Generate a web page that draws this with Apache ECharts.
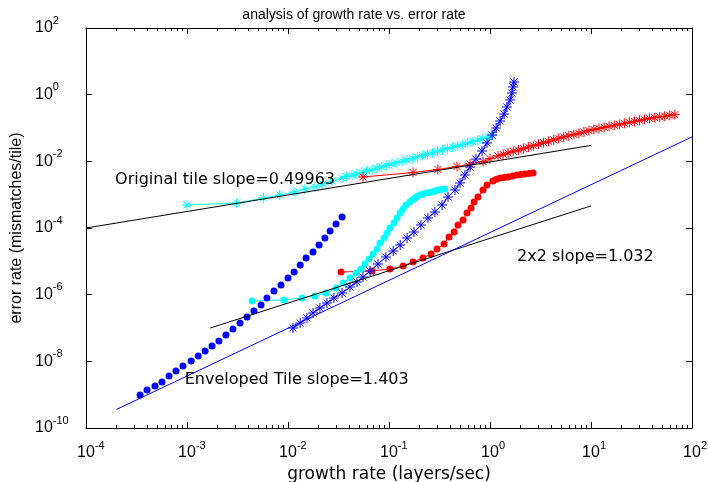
<!DOCTYPE html>
<html lang="en">
<head>
<meta charset="UTF-8">
<title>analysis of growth rate vs. error rate</title>
<script src="https://cdn.jsdelivr.net/npm/echarts@6/dist/echarts.min.js"></script>
<style>
  html, body { margin: 0; padding: 0; background: #fff; }
  #main { width: 708px; height: 482px; }
</style>
</head>
<body>
<div id="main"></div>
<script>
// original tile (cyan stars)
const cyanStarX = [1.0e-3, 3.1e-3, 5.7e-3, 8.3e-3, 1.15e-2, 1.47e-2, 1.85e-2, 2.22e-2, 2.73e-2, 3.43e-2,
  0.038, 0.043, 0.048, 0.054, 0.060, 0.068, 0.076, 0.085, 0.095, 0.107, 0.120, 0.135, 0.151, 0.170,
  0.191, 0.214, 0.240, 0.269, 0.302, 0.339, 0.380, 0.427, 0.479, 0.537, 0.603, 0.676, 0.759, 0.851, 0.955, 1.05];
const cyanStarY = [4.9e-4, 5.6e-4, 7.9e-4, 9.8e-4, 1.2e-3, 1.48e-3, 1.7e-3, 2.09e-3, 2.57e-3, 3.16e-3,
  3.5e-3, 3.8e-3, 4.2e-3, 4.6e-3, 5.1e-3, 5.6e-3, 6.2e-3, 6.8e-3, 7.5e-3, 8.3e-3, 9.1e-3, 1.0e-2, 1.1e-2, 1.2e-2,
  1.35e-2, 1.5e-2, 1.65e-2, 1.8e-2, 2.0e-2, 2.2e-2, 2.4e-2, 2.65e-2, 2.9e-2, 3.2e-2, 3.5e-2, 3.9e-2, 4.3e-2, 4.8e-2, 5.4e-2, 6.0e-2];

// red stars
const redStarX = [0.0553, 0.173, 0.305, 0.471, 0.634, 0.853, 1.0,
  1.20, 1.35, 1.51, 1.70, 1.91, 2.14, 2.40, 2.69, 3.02, 3.39, 3.80, 4.27, 4.79, 5.37, 6.03, 6.76, 7.59, 8.51,
  9.55, 10.7, 12.0, 13.5, 15.1, 17.0, 19.1, 21.4, 24.0, 26.9, 30.2, 33.9, 38.0, 42.7, 47.9, 53.7, 60.3, 67.6];
const redStarY = [3.39e-3, 4.62e-3, 5.69e-3, 7.0e-3, 8.3e-3, 9.9e-3, 1.2e-2,
  0.0146, 0.0162, 0.0178, 0.0200, 0.0219, 0.0243, 0.0269, 0.0295, 0.0327, 0.0363, 0.0398, 0.0442, 0.0490, 0.0537,
  0.0582, 0.0638, 0.0692, 0.0759, 0.0832, 0.0902, 0.0966, 0.104, 0.112, 0.120, 0.129, 0.138, 0.148, 0.158,
  0.170, 0.182, 0.195, 0.204, 0.216, 0.226, 0.240, 0.251];

// blue stars
const blueStarX = [0.0112, 0.0132, 0.0154, 0.0177, 0.0207, 0.0243, 0.0285, 0.0343, 0.0411, 0.0482, 0.0553,
  0.0649, 0.0778, 0.0933, 0.110, 0.129, 0.151, 0.177, 0.207, 0.243, 0.285, 0.335, 0.384, 0.450, 0.505,
  0.565, 0.634, 0.726, 0.834, 0.933, 1.05, 1.15, 1.26, 1.38, 1.47, 1.58, 1.65, 1.69, 1.73];
const blueStarY = [1.0e-7, 1.41e-7, 2.0e-7, 2.82e-7, 3.98e-7, 5.62e-7, 7.94e-7, 1.12e-6, 1.70e-6, 2.40e-6, 3.39e-6,
  5.13e-6, 8.32e-6, 1.35e-5, 2.04e-5, 3.09e-5, 5.01e-5, 7.59e-5, 1.23e-4, 2.0e-4, 3.02e-4, 4.90e-4, 8.51e-4,
  1.38e-3, 2.24e-3, 3.89e-3, 6.76e-3, 1.17e-2, 2.04e-2, 3.55e-2, 6.17e-2, 0.1, 0.162, 0.263, 0.427, 0.692, 1.12, 1.70, 2.40];

// blue dots
const blueDotX = [3.43e-4, 4.02e-4, 4.82e-4, 5.65e-4, 6.64e-4, 7.78e-4, 9.12e-4, 1.10e-3, 1.29e-3, 1.51e-3,
  1.77e-3, 2.07e-3, 2.43e-3, 2.85e-3, 3.35e-3, 3.93e-3, 4.60e-3, 5.41e-3, 6.19e-3, 7.26e-3, 8.53e-3, 1.0e-2,
  1.15e-2, 1.32e-2, 1.51e-2, 1.77e-2, 2.03e-2, 2.32e-2, 2.61e-2, 2.99e-2, 3.43e-2];
const blueDotY = [9.8e-10, 1.38e-9, 1.82e-9, 2.40e-9, 3.63e-9, 5.13e-9, 7.24e-9, 1.02e-8, 1.44e-8, 2.04e-8,
  2.88e-8, 4.07e-8, 6.17e-8, 9.3e-8, 1.41e-7, 2.14e-7, 3.24e-7, 4.90e-7, 7.94e-7, 1.29e-6, 1.95e-6, 3.16e-6,
  4.79e-6, 7.76e-6, 1.26e-5, 1.91e-5, 3.09e-5, 5.01e-5, 8.13e-5, 1.32e-4, 2.14e-4];

// cyan dots
const cyanDotX = [4.41e-3, 9.12e-3, 1.38e-2, 1.85e-2, 2.38e-2, 2.99e-2, 3.51e-2, 4.11e-2, 4.71e-2, 5.28e-2,
  5.78e-2, 6.34e-2, 6.95e-2, 7.60e-2, 8.15e-2, 8.91e-2, 9.55e-2, 0.102, 0.112, 0.120, 0.129, 0.138, 0.147,
  0.161, 0.171, 0.181, 0.192, 0.203, 0.217, 0.232, 0.249, 0.267, 0.285, 0.305, 0.330, 0.358];
const cyanDotY = [6.46e-7, 6.92e-7, 7.94e-7, 9.12e-7, 1.12e-6, 1.58e-6, 2.24e-6, 3.16e-6, 4.47e-6, 5.89e-6,
  8.32e-6, 1.17e-5, 1.66e-5, 2.34e-5, 3.55e-5, 5.01e-5, 7.08e-5, 1.0e-4, 1.41e-4, 2.0e-4, 2.82e-4, 3.72e-4, 4.90e-4,
  6.03e-4, 7.0e-4, 7.94e-4, 8.9e-4, 9.77e-4, 1.05e-3, 1.12e-3, 1.16e-3, 1.20e-3, 1.29e-3, 1.38e-3, 1.43e-3, 1.48e-3];

// red dots
const redDotX = [3.35e-2, 6.79e-2, 0.102, 0.138, 0.173, 0.217, 0.261, 0.299, 0.351, 0.393, 0.441, 0.482, 0.541,
  0.592, 0.649, 0.695, 0.760, 0.853, 0.933, 1.07, 1.16, 1.26, 1.38, 1.51, 1.67, 1.85, 2.02, 2.22, 2.43, 2.67];
const redDotY = [4.79e-6, 5.13e-6, 5.89e-6, 7.24e-6, 9.55e-6, 1.26e-5, 1.66e-5, 2.34e-5, 3.31e-5, 5.37e-5, 7.59e-5,
  1.23e-4, 1.74e-4, 2.82e-4, 3.98e-4, 6.03e-4, 8.51e-4, 1.38e-3, 1.95e-3, 2.57e-3, 2.9e-3, 3.16e-3, 3.3e-3,
  3.39e-3, 3.6e-3, 3.89e-3, 4.0e-3, 4.17e-3, 4.3e-3, 4.47e-3];

// fitted lines (end points)
const origFitX = [1e-4, 10];
const origFitY = [1.0e-4, 3.0e-2];
const twoFitX = [1.7e-3, 10];
const twoFitY = [1.0e-7, 4.6e-4];
const envFitX = [2.0e-4, 100];
const envFitY = [3.6e-10, 5.4e-2];

// annotations
const noteText = ['Original tile slope=0.49963', '2x2 slope=1.032', 'Enveloped Tile slope=1.403'];
const noteX = [1.94e-4, 1.85, 9.5e-4];
const noteY = [2.75e-3, 1.35e-5, 2.75e-9];

const X_MIN = 1e-4, X_MAX = 1e2, Y_MIN = 1e-10, Y_MAX = 1e2;
const FONT = 'Liberation Sans, Arial, sans-serif';
const WIDE = 'DejaVu Sans, sans-serif';

const zip = (xs, ys) => xs.map((x, i) => [x, ys[i]]);

// minor tick positions 2..9 in each decade
const minorTickX = [];
for (let d = -4; d < 2; d++) {
  for (let k = 2; k <= 9; k++) minorTickX.push(k * Math.pow(10, d));
}

const STAR = 'path://M4,0L4,8M0,4L8,4M1.2,1.2L6.8,6.8M6.8,1.2L1.2,6.8';

function starSeries(xs, ys, color) {
  return {
    type: 'line', data: zip(xs, ys), symbol: STAR, symbolSize: 10, showSymbol: true,
    lineStyle: { color: color, width: 1 },
    itemStyle: { color: color, borderColor: color, borderWidth: 1, opacity: 1 },
    z: 3
  };
}
function dotSeries(xs, ys, color) {
  return {
    type: 'line', data: zip(xs, ys), symbol: 'circle', symbolSize: 7, showSymbol: true,
    lineStyle: { color: color, width: 1 },
    itemStyle: { color: color, opacity: 1 },
    z: 3
  };
}
function fitSeries(xs, ys, color) {
  return {
    type: 'line', data: zip(xs, ys), symbol: 'none',
    lineStyle: { color: color, width: 1 }, z: 4
  };
}

const labelFmt = (v) => {
  const e = Math.round(Math.log10(v));
  return '{h|' + e + '}{b|10}{e|' + e + '}';
};
const yLabelFmt = (v) => {
  const e = Math.round(Math.log10(v));
  return '{b|10}{e|' + e + '}';
};
const richExp = {
  h: { fontSize: 11, lineHeight: 12, verticalAlign: 'top', color: 'transparent', fontFamily: FONT },
  b: { fontSize: 16, lineHeight: 26, verticalAlign: 'middle', color: '#000', fontFamily: FONT },
  e: { fontSize: 11, lineHeight: 12, verticalAlign: 'top', color: '#000', fontFamily: FONT }
};

const axisCommonX = {
  type: 'log', logBase: 10, min: X_MIN, max: X_MAX, interval: 1,
  axisLine: { show: true, lineStyle: { color: '#000', width: 1 } },
  axisTick: { show: true, inside: true, length: 6, lineStyle: { color: '#000' } },
  splitLine: { show: false }
};
const axisCommonY = {
  type: 'log', logBase: 10, min: Y_MIN, max: Y_MAX, interval: 2,
  axisLine: { show: true, lineStyle: { color: '#000', width: 1 } },
  axisTick: { show: true, inside: true, length: 6, lineStyle: { color: '#000' } },
  splitLine: { show: false }
};

const chart = echarts.init(document.getElementById('main'), null, { renderer: 'canvas' });
chart.setOption({
  animation: false,
  backgroundColor: '#fff',
  title: {
    text: 'analysis of growth rate vs. error rate',
    left: 'center', top: 3,
    textStyle: { fontSize: 14, fontWeight: 'normal', color: '#000', fontFamily: FONT }
  },
  grid: { left: 86, right: 16, top: 28, bottom: 54, containLabel: false, outerBoundsMode: 'none' },
  xAxis: [
    Object.assign({}, axisCommonX, {
      position: 'bottom',
      name: 'growth rate (layers/sec)', nameLocation: 'middle', nameGap: 32,
      nameTextStyle: { fontSize: 17, color: '#000', fontFamily: WIDE },
      axisLabel: { show: true, margin: 12, formatter: labelFmt, rich: richExp }
    }),
    Object.assign({}, axisCommonX, { position: 'top', axisLabel: { show: false } })
  ],
  yAxis: [
    Object.assign({}, axisCommonY, {
      position: 'left',
      name: 'error rate (mismatches/tile)', nameLocation: 'middle', nameGap: 60,
      nameTextStyle: { fontSize: 16, color: '#000', fontFamily: FONT },
      axisLabel: { show: true, margin: 51, align: 'left', verticalAlign: 'middle', formatter: yLabelFmt, rich: richExp }
    }),
    Object.assign({}, axisCommonY, { position: 'right', axisLabel: { show: false } })
  ],
  series: [
    starSeries(cyanStarX, cyanStarY, '#00ffff'),
    starSeries(redStarX, redStarY, '#ff0000'),
    {
      type: 'scatter', data: zip(blueDotX, blueDotY), symbol: 'circle', symbolSize: 7,
      itemStyle: { color: '#0000ff', opacity: 1 }, z: 3
    },
    dotSeries(cyanDotX, cyanDotY, '#00ffff'),
    dotSeries(redDotX, redDotY, '#ff0000'),
    starSeries(blueStarX, blueStarY, '#0000ff'),
    fitSeries(origFitX, origFitY, '#000000'),
    fitSeries(twoFitX, twoFitY, '#000000'),
    fitSeries(envFitX, envFitY, '#0000ff'),
    {
      type: 'scatter', symbolSize: 0, z: 6, silent: true,
      itemStyle: { opacity: 1 },
      data: noteText.map((t, i) => ({ name: t, value: [noteX[i], noteY[i]] })),
      label: {
        show: true, position: 'right', distance: 0, formatter: '{b}',
        fontSize: 16, color: '#000', fontFamily: WIDE, opacity: 1
      }
    }
  ]
});

// minor ticks on bottom and top axes, placed through the x scale
const yb = chart.convertToPixel({ yAxisIndex: 0 }, Y_MIN);
const yt = chart.convertToPixel({ yAxisIndex: 0 }, Y_MAX);
const minorEls = [];
minorTickX.forEach((v) => {
  const px = Math.round(chart.convertToPixel({ xAxisIndex: 0 }, v)) + 0.5;
  minorEls.push({ type: 'line', silent: true, z: 10, shape: { x1: px, y1: yb, x2: px, y2: yb - 3 }, style: { stroke: '#000', lineWidth: 1 } });
  minorEls.push({ type: 'line', silent: true, z: 10, shape: { x1: px, y1: yt, x2: px, y2: yt + 3 }, style: { stroke: '#000', lineWidth: 1 } });
});
chart.setOption({ graphic: { elements: minorEls } });
</script>
</body>
</html>
